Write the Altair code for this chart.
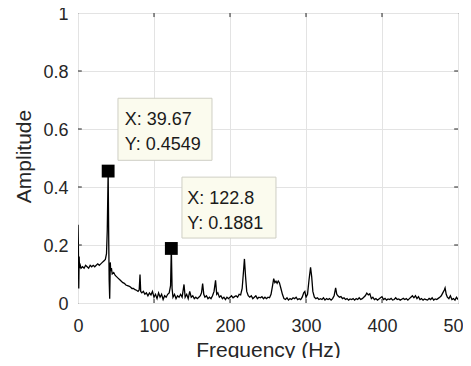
import altair as alt
import pandas as pd

# spectrum
freq = [0, 0.5, 1, 1.5, 2, 3, 4, 6, 8, 10, 12, 14, 16, 18, 20, 22, 24, 26, 28, 30,
        32, 34, 36, 37.5, 38.5, 39.67, 40.5, 41, 41.7, 42.5, 43, 44, 45, 47, 49, 51, 53, 55, 57, 59,
        61, 63, 65, 67, 69, 71, 73, 75, 77, 79, 80.5, 81.6, 82.5, 84, 86, 88, 90, 92, 94, 96,
        98, 100, 102, 104, 106, 108, 110, 112, 114, 116, 118, 120, 121.8, 122.8, 123.8, 125, 127, 129, 131, 133,
        135, 137, 139.5, 141, 143, 145, 147, 149, 151, 153, 155, 157, 159, 161, 162.5, 164, 165.5, 167, 169, 171,
        173, 175, 177, 179, 181, 182.5, 184, 186, 188, 190, 192, 194, 196, 198, 200, 202, 204, 206, 208, 210,
        212, 214, 216, 217.5, 219, 220.5, 222, 224, 226, 228, 230, 232, 234, 236, 238, 240, 242, 244, 246, 248,
        250, 252, 254, 256, 257.5, 259, 260.5, 262, 263.5, 265, 267, 269, 271, 273, 275, 277, 279, 281, 283, 285,
        287, 289, 291, 293, 295, 297, 298.5, 300, 302, 304, 306, 307.5, 309, 311, 313, 315, 317, 319, 321, 323,
        325, 327, 329, 331, 333, 335, 337, 339, 340.5, 342, 344, 346, 348, 350, 352, 354, 356, 358, 360, 362,
        364, 366, 368, 370, 372, 374, 376, 378, 380, 382, 384, 386, 388, 390, 392, 394, 396, 398, 400, 402,
        404, 406, 408, 410, 412, 414, 416, 418, 420, 422, 424, 426, 428, 430, 432, 434, 436, 438, 440, 442,
        444, 446, 448, 450, 452, 454, 456, 458, 460, 462, 464, 466, 468, 470, 472, 474, 476, 478, 480, 482,
        483, 484.5, 486, 488, 490, 492, 494, 496, 498, 500]
amp = [0.27, 0.20, 0.05, 0.16, 0.12, 0.13, 0.12, 0.125, 0.12, 0.13, 0.125, 0.12, 0.13, 0.125, 0.13, 0.125, 0.13, 0.135, 0.13, 0.135,
       0.14, 0.145, 0.15, 0.17, 0.25, 0.4549, 0.20, 0.08, 0.015, 0.14, 0.11, 0.12, 0.10, 0.105, 0.095, 0.09, 0.085, 0.08, 0.075, 0.07,
       0.068, 0.062, 0.06, 0.058, 0.055, 0.05, 0.05, 0.046, 0.044, 0.04, 0.045, 0.098, 0.04, 0.035, 0.04, 0.03, 0.035, 0.025, 0.035, 0.028,
       0.04, 0.02, 0.03, 0.015, 0.035, 0.02, 0.03, 0.012, 0.025, 0.02, 0.03, 0.035, 0.06, 0.1881, 0.05, 0.02, 0.03, 0.015, 0.025, 0.02,
       0.03, 0.02, 0.064, 0.02, 0.03, 0.015, 0.04, 0.02, 0.025, 0.015, 0.02, 0.015, 0.02, 0.025, 0.035, 0.067, 0.03, 0.02, 0.025, 0.015,
       0.02, 0.015, 0.025, 0.04, 0.078, 0.03, 0.035, 0.02, 0.025, 0.015, 0.02, 0.012, 0.02, 0.015, 0.02, 0.025, 0.018, 0.022, 0.025, 0.02,
       0.03, 0.028, 0.05, 0.10, 0.152, 0.09, 0.04, 0.025, 0.02, 0.025, 0.015, 0.02, 0.025, 0.015, 0.02, 0.018, 0.022, 0.015, 0.02, 0.015,
       0.02, 0.018, 0.03, 0.06, 0.084, 0.07, 0.075, 0.068, 0.076, 0.07, 0.05, 0.03, 0.015, 0.012, 0.018, 0.01, 0.015, 0.012, 0.018, 0.015,
       0.02, 0.012, 0.015, 0.012, 0.02, 0.035, 0.04, 0.02, 0.03, 0.08, 0.123, 0.09, 0.04, 0.02, 0.015, 0.018, 0.012, 0.015, 0.012, 0.018,
       0.01, 0.015, 0.012, 0.015, 0.01, 0.015, 0.025, 0.052, 0.03, 0.025, 0.02, 0.022, 0.015, 0.018, 0.012, 0.015, 0.01, 0.014, 0.012, 0.015,
       0.01, 0.015, 0.012, 0.018, 0.012, 0.015, 0.02, 0.025, 0.034, 0.028, 0.032, 0.015, 0.02, 0.012, 0.015, 0.01, 0.014, 0.018, 0.022, 0.012,
       0.016, 0.01, 0.014, 0.012, 0.016, 0.01, 0.012, 0.018, 0.012, 0.014, 0.01, 0.013, 0.016, 0.012, 0.015, 0.01, 0.015, 0.02, 0.025, 0.018,
       0.025, 0.015, 0.022, 0.012, 0.015, 0.01, 0.014, 0.012, 0.01, 0.016, 0.012, 0.018, 0.01, 0.014, 0.012, 0.016, 0.02, 0.025, 0.035, 0.045,
       0.052, 0.03, 0.02, 0.015, 0.025, 0.012, 0.015, 0.01, 0.02, 0.012]

# data tips
tip_x = [39.67, 122.8]
tip_y = [0.4549, 0.1881]
tip_line1 = ["X: 39.67", "X: 122.8"]
tip_line2 = ["Y: 0.4549", "Y: 0.1881"]
box_x0 = [52.6, 136.8]
box_x1 = [176.3, 260.5]
box_y0 = [0.492, 0.224]
box_y1 = [0.706, 0.434]
text_x = [61.5, 143.6]
text_y1 = [0.631, 0.360]
text_y2 = [0.545, 0.273]

x_ticks = [0, 100, 200, 300, 400, 500]
y_ticks = [0, 0.2, 0.4, 0.6, 0.8, 1]

ink = "#262626"
FONT = "Liberation Sans"

spec = pd.DataFrame({"f": freq, "a": amp})
tips = pd.DataFrame({"x": tip_x, "y": tip_y, "l1": tip_line1, "l2": tip_line2,
                     "bx0": box_x0, "bx1": box_x1, "by0": box_y0, "by1": box_y1,
                     "tx": text_x, "ty1": text_y1, "ty2": text_y2})

xs = alt.Scale(domain=[0, 500], nice=False, zero=False)
ys = alt.Scale(domain=[0, 1], nice=False)

line = alt.Chart(spec).mark_line(color="black", strokeWidth=1.3, clip=True).encode(
    x=alt.X("f:Q", scale=xs, title="Frequency (Hz)",
            axis=alt.Axis(values=x_ticks, format="d", grid=True, gridColor="#e3e3e3",
                          domain=False, ticks=False, labelFontSize=18, labelColor=ink,
                          labelFont=FONT, labelPadding=14, labelFlush=False,
                          titleFont=FONT, titleFontSize=21,
                          titleFontWeight="normal", titleColor=ink, titleBaseline="alphabetic",
                          titleY=53)),
    y=alt.Y("a:Q", scale=ys, title="Amplitude",
            axis=alt.Axis(values=y_ticks, grid=True, gridColor="#e3e3e3",
                          domain=False, ticks=False, labelFontSize=18, labelColor=ink,
                          labelFont=FONT, labelPadding=10, labelOffset=1.5, labelFlush=False,
                          labelExpr="datum.value == 0 ? '0' : datum.value == 1 ? '1' : format(datum.value, '.1f')",
                          titleFont=FONT, titleFontSize=21, titleFontWeight="normal",
                          titleColor=ink, titleX=-54, titleY=143, titleAlign="center",
                          titleBaseline="middle")),
)

# small inward ticks (MATLAB style)
ytk = pd.DataFrame({"v": [0.2, 0.4, 0.6, 0.8]})
xtk = pd.DataFrame({"v": [100, 200, 300, 400]})
tick_l = alt.Chart(ytk).mark_rule(color=ink, strokeWidth=1).encode(
    y=alt.Y("v:Q", scale=ys), x=alt.datum(0, scale=xs), x2=alt.datum(5))
tick_r = alt.Chart(ytk).mark_rule(color=ink, strokeWidth=1).encode(
    y=alt.Y("v:Q", scale=ys), x=alt.datum(495, scale=xs), x2=alt.datum(500))
tick_b = alt.Chart(xtk).mark_rule(color=ink, strokeWidth=1).encode(
    x=alt.X("v:Q", scale=xs), y=alt.datum(0, scale=ys), y2=alt.datum(0.014))
tick_t = alt.Chart(xtk).mark_rule(color=ink, strokeWidth=1).encode(
    x=alt.X("v:Q", scale=xs), y=alt.datum(0.986, scale=ys), y2=alt.datum(1))

boxes = alt.Chart(tips).mark_rect(fill="#fbfbee", stroke="#cfcfc4", strokeWidth=1).encode(
    x=alt.X("bx0:Q", scale=xs), x2="bx1:Q", y=alt.Y("by0:Q", scale=ys), y2="by1:Q")
marks = alt.Chart(tips).mark_square(color="black", size=165, opacity=1).encode(
    x=alt.X("x:Q", scale=xs), y=alt.Y("y:Q", scale=ys))
t1 = alt.Chart(tips).mark_text(align="left", baseline="middle", font=FONT, fontSize=18,
                               color="#1a1a1a").encode(
    x=alt.X("tx:Q", scale=xs), y=alt.Y("ty1:Q", scale=ys), text="l1:N")
t2 = alt.Chart(tips).mark_text(align="left", baseline="middle", font=FONT, fontSize=18,
                               color="#1a1a1a").encode(
    x=alt.X("tx:Q", scale=xs), y=alt.Y("ty2:Q", scale=ys), text="l2:N")

chart = alt.layer(line, tick_l, tick_r, tick_b, tick_t, boxes, marks, t1, t2).properties(
    width=380, height=290,
    autosize=alt.AutoSizeParams(type="none"),
    padding={"left": 70, "top": 5, "right": 5, "bottom": 55},
    background="white",
).configure_view(stroke=ink, strokeWidth=1)

chart.save("out.html", embed_options={"renderer": "svg", "actions": False})
